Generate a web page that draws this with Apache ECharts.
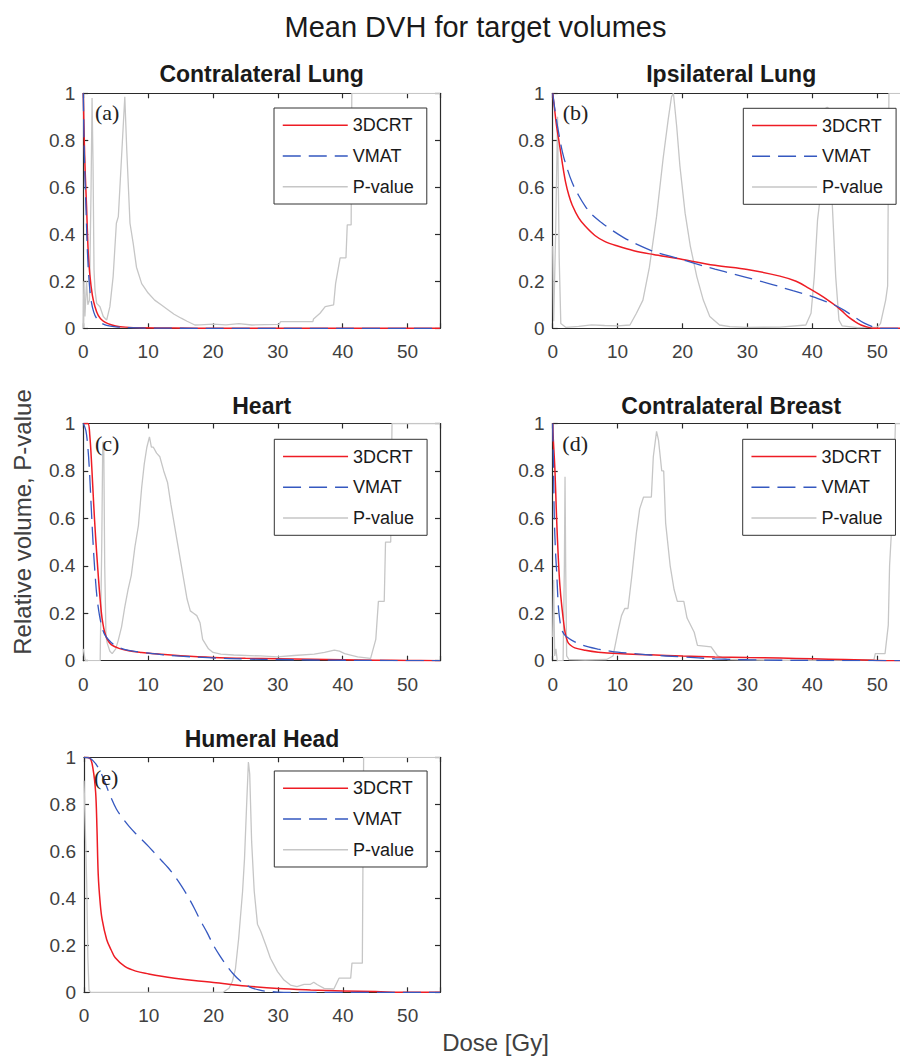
<!DOCTYPE html>
<html>
<head>
<meta charset="utf-8">
<script src="https://cdn.jsdelivr.net/npm/echarts@6/dist/echarts.min.js"></script>
<style>html,body{margin:0;padding:0;background:#fff}#chart{width:900px;height:1057px}</style>
</head>
<body>
<div id="chart"></div>
<script>
// ---------------- data ----------------
const mainTitle = 'Mean DVH for target volumes';
const xAxisTitle = 'Dose [Gy]';
const yAxisTitle = 'Relative volume, P-value';
const panelTitles = ['Contralateral Lung', 'Ipsilateral Lung', 'Heart', 'Contralateral Breast', 'Humeral Head'];
const panelTags = ['(a)', '(b)', '(c)', '(d)', '(e)'];
const seriesNames = ['3DCRT', 'VMAT', 'P-value'];
const xTicks = [0, 10, 20, 30, 40, 50];
const yTicks = [0, 0.2, 0.4, 0.6, 0.8, 1];

// (a) Contralateral Lung
const lungC_3dcrt = [[0,1],[0.15,0.8],[0.3,0.66],[0.5,0.52],[0.75,0.33],[1,0.23],[1.4,0.14],[1.8,0.092],[2.3,0.055],[3,0.032],[3.8,0.02],[5,0.01],[6.5,0.005],[9,0.002],[14,0.001],[20,0],[55,0]];
const lungC_vmat = [[0,1],[0.1,0.82],[0.25,0.65],[0.45,0.48],[0.65,0.32],[0.9,0.2],[1.2,0.12],[1.6,0.07],[2.1,0.04],[2.8,0.022],[3.6,0.012],[5,0.006],[7,0.003],[10,0.001],[20,0],[55,0]];
const lungC_p = [[0,0],[0.08,0.2],[0.25,0.05],[0.5,0.2],[0.7,0.1],[0.95,0.12],[1.2,0.6],[1.35,0.98],[1.5,0.7],[1.65,0.25],[1.8,0.163],[2.06,0.106],[2.57,0.092],[3.08,0.05],[3.6,0.035],[4.1,0.092],[4.6,0.22],[5.1,0.447],[5.4,0.475],[5.9,0.73],[6.4,0.985],[6.7,0.76],[7.2,0.447],[7.7,0.36],[8.2,0.26],[9,0.19],[10,0.15],[11,0.12],[12,0.1],[13.1,0.078],[14,0.06],[15.1,0.043],[16,0.03],[17.2,0.014],[18,0.015],[20,0.018],[22,0.015],[24,0.02],[26,0.014],[28,0.016],[30.2,0.017],[30.4,0.028],[32,0.028],[35.4,0.028],[35.5,0.04],[36.5,0.064],[37.3,0.092],[38.6,0.1],[38.9,0.19],[39.6,0.3],[40.5,0.3],[40.7,0.44],[41.3,0.44],[41.4,1],[55,1]];

// (b) Ipsilateral Lung
const lungI_3dcrt = [[0,1],[0.3,0.93],[0.6,0.86],[1,0.79],[1.5,0.7],[2,0.62],[2.5,0.565],[3,0.525],[4,0.47],[5,0.435],[6.5,0.395],[8,0.37],[10,0.35],[12.5,0.33],[15.5,0.314],[19,0.298],[25,0.268],[30,0.25],[35,0.222],[37.5,0.2],[39.5,0.17],[41,0.145],[42.5,0.118],[43.5,0.098],[44.5,0.075],[45.5,0.05],[46.5,0.03],[47.5,0.014],[48.5,0.005],[49.5,0],[55,0]];
const lungI_vmat = [[0,1],[0.5,0.9],[1,0.82],[1.5,0.75],[2,0.7],[3,0.62],[4,0.565],[5,0.52],[6,0.485],[7.5,0.45],[9,0.42],[11,0.385],[13,0.357],[15,0.333],[17,0.315],[19,0.3],[22,0.275],[25,0.252],[28,0.23],[31,0.208],[34,0.185],[37,0.16],[40,0.135],[42,0.115],[43.5,0.098],[45,0.075],[46.5,0.048],[48,0.022],[49.5,0.005],[50.5,0],[55,0]];
const lungI_p = [[0,0.35],[0.15,0.03],[0.45,0.4],[0.75,0.9],[1.0,0.3],[1.25,0.02],[2,0.004],[4,0.008],[6,0.015],[8,0.012],[10,0.01],[11.9,0.014],[12.9,0.064],[13.9,0.12],[14.9,0.26],[16,0.475],[17,0.72],[17.8,0.89],[18.3,0.985],[18.6,1],[19.1,0.86],[19.6,0.69],[20.4,0.49],[21.2,0.35],[22.2,0.22],[23.2,0.12],[24.2,0.05],[25.7,0.014],[27.3,0.007],[30,0.004],[35,0.005],[39,0.014],[39.8,0.064],[40.3,0.22],[40.8,0.46],[41.4,0.6],[41.7,0.93],[42.3,0.94],[42.8,0.93],[43,0.57],[43.6,0.22],[44.1,0.035],[44.6,0.01],[47,0.003],[50,0.005],[50.5,0.02],[51.3,0.12],[51.6,0.18],[51.8,1],[55,1]];

// (c) Heart
const heart_3dcrt = [[0,1],[0.7,1],[1,0.95],[1.3,0.82],[1.6,0.66],[1.9,0.52],[2.2,0.4],[2.5,0.29],[2.8,0.2],[3,0.16],[3.3,0.12],[3.7,0.09],[4.3,0.068],[5.5,0.052],[7,0.042],[9,0.035],[12,0.027],[15,0.021],[20,0.014],[25,0.01],[30,0.008],[35,0.006],[40,0.004],[45,0.002],[50,0.001],[55,0]];
const heart_vmat = [[0,1],[0.4,0.97],[0.7,0.9],[0.95,0.8],[1.2,0.66],[1.5,0.5],[1.8,0.37],[2.1,0.27],[2.5,0.19],[2.9,0.14],[3.3,0.11],[4,0.085],[4.6,0.07],[5.5,0.056],[7,0.044],[9,0.035],[12,0.026],[15,0.019],[20,0.012],[25,0.007],[30,0.005],[35,0.003],[40,0.002],[45,0.001],[50,0],[55,0]];
const heart_p = [[0,0.05],[0.3,0],[2.6,0],[2.85,0.5],[3,0.92],[3.15,0.92],[3.3,0.4],[3.5,0.1],[3.7,0.073],[4.1,0.04],[4.45,0.03],[5,0.05],[5.4,0.087],[5.9,0.143],[6.4,0.227],[6.9,0.3],[7.4,0.36],[7.96,0.48],[8.5,0.57],[9,0.73],[9.4,0.83],[9.8,0.9],[10.2,0.944],[10.5,0.9],[10.8,0.9],[11.3,0.875],[11.8,0.86],[12.4,0.8],[13,0.75],[13.5,0.66],[14,0.58],[14.5,0.5],[15,0.42],[15.5,0.34],[16,0.26],[16.5,0.21],[17,0.2],[17.5,0.19],[18,0.16],[18.4,0.09],[19.3,0.05],[20,0.035],[21.2,0.028],[23.2,0.024],[27.3,0.02],[29.9,0.016],[32.5,0.022],[35.6,0.028],[37.2,0.035],[38.7,0.045],[39.5,0.04],[40.3,0.03],[42.3,0.016],[44.3,0.01],[45.1,0.09],[45.5,0.25],[46.4,0.25],[46.6,0.5],[47.4,0.5],[47.6,1],[55,1]];

// (d) Contralateral Breast
const breast_3dcrt = [[0,1],[0.1,0.93],[0.35,0.8],[0.6,0.6],[0.87,0.43],[1.1,0.32],[1.4,0.23],[1.9,0.12],[2.3,0.08],[2.7,0.066],[3.4,0.054],[5,0.044],[7,0.036],[10,0.03],[15,0.025],[20,0.02],[25,0.016],[30,0.013],[35,0.011],[40,0.008],[45,0.005],[48,0.003],[51.5,0],[55,0]];
const breast_vmat = [[0,1],[0.1,0.85],[0.25,0.6],[0.45,0.45],[0.6,0.38],[0.87,0.23],[1.1,0.17],[1.4,0.13],[1.8,0.11],[2.2,0.1],[2.9,0.087],[4,0.072],[5.5,0.058],[7,0.049],[8.5,0.042],[10,0.036],[12.5,0.03],[15,0.024],[20,0.016],[25,0.008],[30,0.004],[35,0.002],[40,0.001],[45,0],[55,0]];
const breast_p = [[0,0.1],[0.15,0.34],[0.3,0.02],[0.5,0.05],[0.7,0],[1.6,0],[1.8,0.4],[1.9,0.775],[2,0.4],[2.15,0.02],[2.5,0.005],[5,0.003],[8.3,0.005],[9.3,0.02],[10.1,0.13],[10.6,0.19],[11.1,0.22],[11.6,0.22],[12.2,0.36],[12.9,0.54],[13.4,0.64],[14,0.69],[15.2,0.69],[15.5,0.86],[16,0.967],[16.3,0.93],[16.8,0.8],[17.1,0.8],[17.4,0.58],[18.1,0.4],[18.7,0.3],[19.2,0.25],[20.2,0.25],[20.7,0.18],[21.8,0.12],[22.3,0.065],[24.4,0.058],[25.4,0.02],[27,0.005],[35,0.002],[47,0.003],[49.5,0.005],[49.7,0.03],[51.2,0.03],[51.7,0.15],[51.9,0.4],[52.5,0.7],[52.8,1],[55,1]];

// (e) Humeral Head
const humeral_3dcrt = [[0,1],[0.9,0.996],[1.4,0.95],[1.8,0.85],[2,0.7],[2.2,0.5],[2.5,0.38],[2.8,0.31],[3.5,0.225],[4.2,0.18],[4.8,0.148],[6.3,0.11],[8,0.09],[10,0.078],[12,0.068],[14,0.06],[17,0.05],[20,0.042],[25,0.027],[30,0.016],[35,0.01],[40,0.006],[45,0.003],[50,0],[55,0]];
const humeral_vmat = [[0,1],[1,0.995],[2,0.965],[3,0.91],[4,0.84],[5,0.78],[6,0.74],[7,0.705],[8,0.675],[9,0.648],[10,0.62],[11,0.59],[12,0.56],[13,0.53],[14,0.495],[15,0.455],[16,0.41],[17,0.36],[18,0.305],[19,0.255],[20,0.2],[21,0.155],[22,0.115],[23,0.08],[24,0.052],[25,0.032],[26,0.018],[27,0.01],[28,0.005],[30,0.001],[32,0],[55,0]];
const humeral_p = [[0,0.9],[0.2,0.7],[0.42,0.46],[0.6,0.15],[0.77,0.01],[1,0],[21.5,0],[22.4,0.017],[22.9,0.045],[23.4,0.1],[23.9,0.23],[24.5,0.43],[24.8,0.57],[25.1,0.78],[25.4,0.98],[25.6,0.93],[25.9,0.64],[26.3,0.43],[26.8,0.29],[27.3,0.26],[28.1,0.2],[28.8,0.145],[29.9,0.088],[30.9,0.052],[31.9,0.031],[32.9,0.024],[34,0.034],[35,0.034],[35.5,0.043],[36,0.033],[37.1,0.017],[38.6,0.014],[39.4,0.06],[41.2,0.06],[41.4,0.124],[43,0.124],[43.2,1],[55,1]];

const panelData = [
  [lungC_3dcrt, lungC_vmat, lungC_p],
  [lungI_3dcrt, lungI_vmat, lungI_p],
  [heart_3dcrt, heart_vmat, heart_p],
  [breast_3dcrt, breast_vmat, breast_p],
  [humeral_3dcrt, humeral_vmat, humeral_p]
];

// ---------------- layout & style ----------------
const layout = [
  {left: 83.3, top: 93.3, width: 356.7, height: 235, lgL: 274, lgT: 108, tagX: 95, tagY: 112.7, titleY: 74.2},
  {left: 552.7, top: 93.3, width: 357, height: 235, lgL: 743.3, lgT: 108.3, tagX: 562.7, tagY: 112.7, titleY: 74.2},
  {left: 83.3, top: 423.5, width: 356.7, height: 237.2, lgL: 274.3, lgT: 439.3, tagX: 95, tagY: 443.3, titleY: 405.5},
  {left: 552.7, top: 423.5, width: 357, height: 237.2, lgL: 742.7, lgT: 439.3, tagX: 562.3, tagY: 443.3, titleY: 405.5},
  {left: 84, top: 757.3, width: 356, height: 235, lgL: 274.3, lgT: 771, tagX: 94, tagY: 777.7, titleY: 739}
];
const FONT = "'Liberation Sans', Arial, Helvetica, sans-serif";
const AXIS_COLOR = '#2b2b2b';
const LABEL_COLOR = '#404040';
const RED = '#ee1c24', BLUE = '#3558c0', GREY = '#c6c6c6';

const grids = [], xAxes = [], yAxes = [], series = [], legends = [], graphics = [];
function axisBase(showLabel) {
  return {
    show: true,
    axisLine: {show: true, onZero: false, lineStyle: {color: AXIS_COLOR, width: 1.2}},
    axisTick: {show: true, inside: true, length: 5, lineStyle: {color: AXIS_COLOR, width: 1.2}},
    splitLine: {show: false},
    splitArea: {show: false},
    axisLabel: {show: showLabel, color: LABEL_COLOR, fontSize: 19, fontFamily: FONT}
  };
}
layout.forEach((L, i) => {
  grids.push({left: L.left, top: L.top, width: L.width, height: L.height, containLabel: false, outerBoundsMode: 'none'});
  ['bottom', 'top'].forEach((pos, k) => {
    const a = axisBase(k === 0);
    a.axisLabel.margin = 14;
    a.axisLabel.formatter = v => (xTicks.indexOf(v) >= 0 ? String(v) : '');
    xAxes.push(Object.assign({gridIndex: i, type: 'value', min: 0, max: 55, interval: 10, position: pos}, a));
  });
  ['left', 'right'].forEach((pos, k) => {
    const a = axisBase(k === 0);
    a.axisLabel.margin = 8;
    a.axisLabel.padding = [6, 0, 0, 0];
    a.axisLabel.formatter = v => {
      const t = yTicks.find(y => Math.abs(y - v) < 1e-9);
      return t === undefined ? '' : String(t);
    };
    yAxes.push(Object.assign({gridIndex: i, type: 'value', min: 0, max: 1, interval: 0.2, position: pos}, a));
  });
  const [red, blue, grey] = panelData[i];
  series.push({
    type: 'line', name: seriesNames[2], xAxisIndex: 2 * i, yAxisIndex: 2 * i, data: grey,
    symbol: 'none', showSymbol: false, z: 2, silent: true,
    lineStyle: {color: GREY, width: 1.3}, itemStyle: {color: GREY}
  });
  series.push({
    type: 'line', name: seriesNames[0], xAxisIndex: 2 * i, yAxisIndex: 2 * i, data: red,
    symbol: 'none', showSymbol: false, smooth: 0.35, z: 3, silent: true,
    lineStyle: {color: RED, width: 1.5}, itemStyle: {color: RED}
  });
  series.push({
    type: 'line', name: seriesNames[1], xAxisIndex: 2 * i, yAxisIndex: 2 * i, data: blue,
    symbol: 'none', showSymbol: false, smooth: 0.35, z: 4, silent: true,
    lineStyle: {color: BLUE, width: 1.3, type: [18, 8]}, itemStyle: {color: BLUE}
  });
  legends.push({
    data: seriesNames.slice(),
    orient: 'vertical', left: L.lgL, top: L.lgT,
    itemWidth: 65, itemHeight: 14, itemGap: 12.7,
    padding: [8.3, 13, 8.3, 8],
    borderColor: '#333', borderWidth: 1, backgroundColor: '#fff',
    selectedMode: false,
    itemStyle: {opacity: 0},
    lineStyle: {width: 1.5, opacity: 1},
    textStyle: {fontSize: 18, color: '#1a1a1a', fontFamily: FONT}
  });
  graphics.push({
    type: 'text', x: L.left + L.width / 2, y: L.titleY, z: 10,
    style: {text: panelTitles[i], fill: '#1a1a1a', font: "bold 23px " + FONT,
      align: 'center', verticalAlign: 'middle', textAlign: 'center', textVerticalAlign: 'middle'}
  });
  graphics.push({
    type: 'text', x: L.tagX, y: L.tagY, z: 10,
    style: {text: panelTags[i], fill: '#222', font: "22px 'Liberation Serif', 'DejaVu Serif', serif",
      align: 'left', verticalAlign: 'middle', textAlign: 'left', textVerticalAlign: 'middle'}
  });
});
graphics.push({
  type: 'text', x: 475.5, y: 27, z: 10,
  style: {text: mainTitle, fill: '#1a1a1a', font: "29px " + FONT,
    align: 'center', verticalAlign: 'middle', textAlign: 'center', textVerticalAlign: 'middle'}
});
graphics.push({
  type: 'text', x: 495.5, y: 1042, z: 10,
  style: {text: xAxisTitle, fill: '#404040', font: "24px " + FONT,
    align: 'center', verticalAlign: 'middle', textAlign: 'center', textVerticalAlign: 'middle'}
});
graphics.push({
  type: 'text', x: 22, y: 522, z: 10, rotation: Math.PI / 2,
  style: {text: yAxisTitle, fill: '#404040', font: "24px " + FONT,
    align: 'center', verticalAlign: 'middle', textAlign: 'center', textVerticalAlign: 'middle'}
});

const chart = echarts.init(document.getElementById('chart'), null, {renderer: 'svg', width: 900, height: 1057});
chart.setOption({
  animation: false,
  backgroundColor: '#fff',
  grid: grids, xAxis: xAxes, yAxis: yAxes, series: series, legend: legends,
  graphic: {elements: graphics}
});
</script>
</body>
</html>
